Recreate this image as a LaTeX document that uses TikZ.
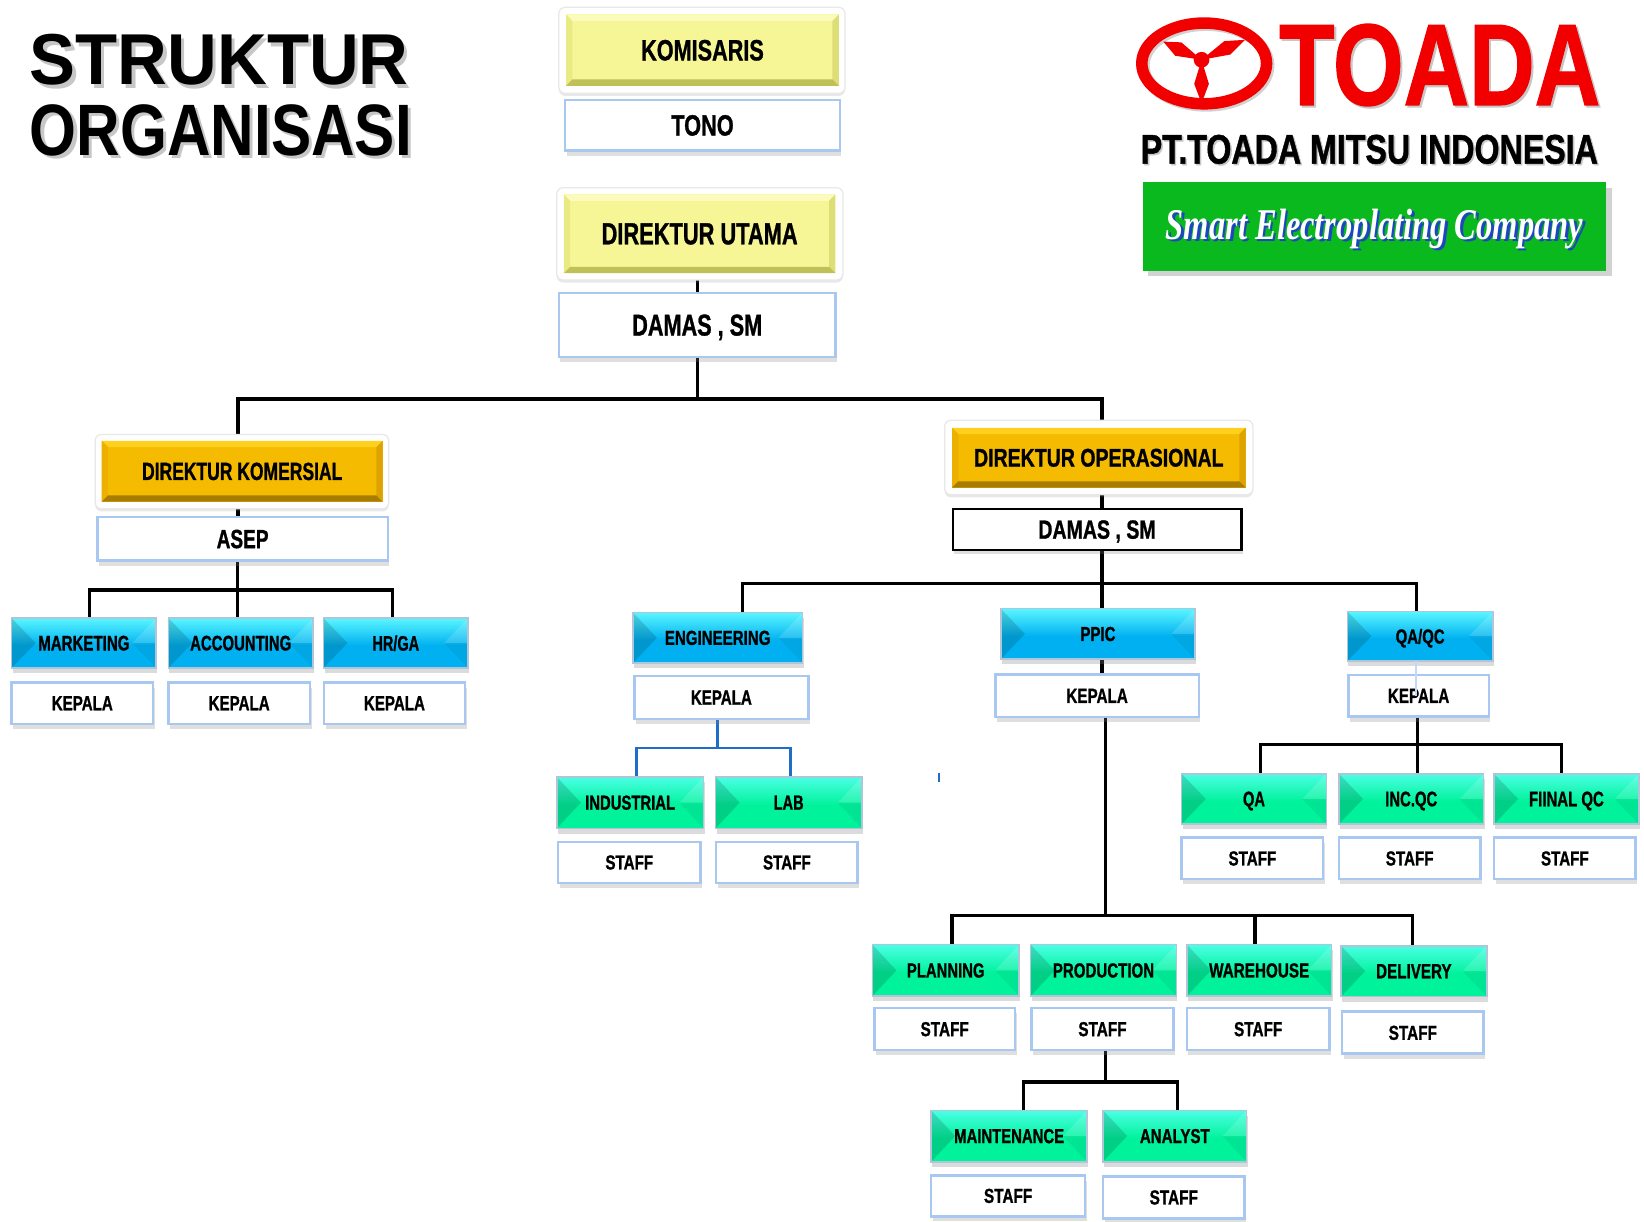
\documentclass[tikz,border=0pt]{standalone}
\usepackage{fontspec}
\setmainfont{Liberation Sans}
\newfontfamily\boxfont{Liberation Sans}[BoldFeatures={FakeBold=1.2}]
\newfontfamily\slogfont{Liberation Serif}
\usetikzlibrary{shadows,calc}
\pgfdeclarelayer{paper}
\pgfdeclarelayer{wires}
\pgfsetlayers{paper,wires,main}

\definecolor{yelm}{RGB}{246,246,150}
\definecolor{yelt}{RGB}{251,251,190}
\definecolor{yell}{RGB}{234,234,132}
\definecolor{yelr}{RGB}{222,222,118}
\definecolor{yelb}{RGB}{192,192,88}
\definecolor{orm}{RGB}{245,187,0}
\definecolor{ort}{RGB}{255,208,30}
\definecolor{orl}{RGB}{236,176,0}
\definecolor{orr}{RGB}{222,163,0}
\definecolor{orb}{RGB}{168,124,0}
\definecolor{blt}{RGB}{90,246,255}
\definecolor{blm}{RGB}{0,176,240}
\definecolor{grt}{RGB}{75,255,228}
\definecolor{grm}{RGB}{0,242,155}
\definecolor{bxline}{RGB}{176,196,218}
\definecolor{wline}{RGB}{168,200,242}
\definecolor{engline}{RGB}{30,110,200}
\definecolor{logored}{RGB}{242,0,0}
\definecolor{logogreen}{RGB}{10,185,30}
\definecolor{smartblue}{RGB}{30,70,190}

\newcommand\lbl[3]{\raisebox{0pt}[\height][0pt]{\resizebox{#1pt}{#2pt}{\boxfont\bfseries #3}}}

\newcommand\ppcorners{%
 \coordinate (pNW) at (path picture bounding box.north west);
 \coordinate (pNE) at (path picture bounding box.north east);
 \coordinate (pSW) at (path picture bounding box.south west);
 \coordinate (pSE) at (path picture bounding box.south east);}

\newcommand\flatbevel[4]{%
 \ppcorners
 \fill[#1] (pNW) -- (pNE) -- ([xshift=-6pt,yshift=-6pt]pNE) -- ([xshift=6pt,yshift=-6pt]pNW) -- cycle;
 \fill[#2] (pNW) -- ([xshift=6pt,yshift=-6pt]pNW) -- ([xshift=6pt,yshift=6pt]pSW) -- (pSW) -- cycle;
 \fill[#3] (pNE) -- ([xshift=-6pt,yshift=-6pt]pNE) -- ([xshift=-6pt,yshift=6pt]pSE) -- (pSE) -- cycle;
 \fill[#4] (pSW) -- (pSE) -- ([xshift=-6pt,yshift=6pt]pSE) -- ([xshift=6pt,yshift=6pt]pSW) -- cycle;}

\newcommand\anglebevel[2]{%
 \ppcorners
 \coordinate (pML) at ($(pNW)!0.5!(pSW)$);
 \coordinate (pMR) at ($(pNE)!0.5!(pSE)$);
 \shade[top color=#1, bottom color=#2] (pNW) rectangle ($(pNE)!0.55!(pSE)$);
 \fill[black, opacity=0.14] (pNW) -- ([xshift=23pt]pML) -- (pSW) -- cycle;
 \fill[white, opacity=0.14] (pNE) -- ([xshift=-23pt]pMR) -- (pMR) -- cycle;
 \fill[black, opacity=0.05] (pMR) -- ([xshift=-23pt]pMR) -- (pSE) -- cycle;}

\tikzset{
 conn/.style={line width=3pt, black},
 bconn/.style={line width=2.5pt, engline},
 frm/.style={rectangle, rounded corners=6pt, fill=white, draw=black!9, line width=1.2pt,
   drop shadow={shadow xshift=0pt, shadow yshift=-2.5pt, opacity=0.18}},
 yelbox/.style={rectangle, fill=yelm, path picture={\flatbevel{yelt}{yell}{yelr}{yelb}}},
 orbox/.style={rectangle, fill=orm, path picture={\flatbevel{ort}{orl}{orr}{orb}}},
 blbox/.style={rectangle, fill=blm, draw=bxline, line width=1.5pt,
   drop shadow={shadow xshift=1pt, shadow yshift=-5pt, opacity=0.28},
   path picture={\anglebevel{blt}{blm}}},
 grbox/.style={rectangle, fill=grm, draw=bxline, line width=1.5pt,
   drop shadow={shadow xshift=1pt, shadow yshift=-5pt, opacity=0.28},
   path picture={\anglebevel{grt}{grm}}},
 wbox/.style={rectangle, fill=white, draw=wline, line width=2.5pt,
   drop shadow={shadow xshift=1.5pt, shadow yshift=-5pt, opacity=0.25}},
 kbox/.style={rectangle, fill=white, draw=black, line width=2.5pt,
   drop shadow={shadow xshift=1.5pt, shadow yshift=-4pt, opacity=0.25}},
 sz/.style 2 args={minimum width=#1pt, minimum height=#2pt},
}

\begin{document}
\begin{tikzpicture}[x=1pt,y=-1pt, every node/.style={inner sep=0pt,outer sep=0pt}]
\begin{pgfonlayer}{paper}
\fill[white] (0,0) rectangle (1568,1165);
\end{pgfonlayer}
\useasboundingbox (0,0) rectangle (1568,1165);

% ---------- title ----------
\node[anchor=base west, text=black!22] (t1s) at (31.5,84) {\resizebox{361pt}{48pt}{\bfseries STRUKTUR}};
\node[anchor=base west] (t1) at (28.6,81) {\resizebox{361pt}{48pt}{\bfseries STRUKTUR}};
\node[anchor=base west, text=black!22] (t2s) at (31.5,151.5) {\resizebox{364pt}{48.5pt}{\bfseries ORGANISASI}};
\node[anchor=base west] (t2) at (28.6,148.5) {\resizebox{364pt}{48.5pt}{\bfseries ORGANISASI}};

% ---------- logo ----------
\draw[black!18, line width=11pt] (1150.5,62.5) ellipse [x radius=59.5, y radius=38.5];
\draw[logored, line width=11pt] (1148.5,60.5) ellipse [x radius=59.5, y radius=38.5];
\fill[logored] (1146,57) -- (1126.7,40.4) -- (1109.5,39.7) -- (1120.9,53.2) -- cycle;
\fill[logored] (1146,57) -- (1167.7,39.2) -- (1187.4,38) -- (1173.5,52.0) -- cycle;
\fill[logored] (1146,57) -- (1139,80) -- (1146,98.5) -- (1153,80) -- cycle;
\fill[logored] (1146,57) circle [radius=7.5];
\node[anchor=base west, text=black!22] (toadas) at (1222,102) {\resizebox{306pt}{77pt}{\boxfont\bfseries TOADA}};
\node[anchor=base west, text=logored] (toada) at (1220,100) {\resizebox{306pt}{77pt}{\boxfont\bfseries TOADA}};
\node[anchor=base west, text=black!22] (pts) at (1089.5,157.5) {\resizebox{436pt}{27.5pt}{\boxfont\bfseries PT.TOADA MITSU INDONESIA}};
\node[anchor=base west] (pt) at (1088,156) {\resizebox{436pt}{27.5pt}{\boxfont\bfseries PT.TOADA MITSU INDONESIA}};
\node[rectangle, fill=logogreen, sz={442}{84}, drop shadow={shadow xshift=5pt, shadow yshift=-5pt, opacity=0.35}] (slogan) at (1311,216) {};
\node[anchor=base west, text=smartblue] (smarts) at (1114.5,230.5) {\resizebox{398pt}{29pt}{\slogfont\bfseries\itshape Smart Electroplating Company}};
\node[anchor=base west, text=white] (smart) at (1112,228) {\resizebox{398pt}{29pt}{\slogfont\bfseries\itshape Smart Electroplating Company}};

% ---------- top ----------
\node[frm, sz={273}{82}] (komf) at (669.5,48) {};
\node[yelbox, sz={260}{68}] (kom) at (670,47.8) {\lbl{117}{19.5}{KOMISARIS}};
\node[wbox, sz={262}{48}] (tono) at (670,119.5) {\lbl{59.5}{19.5}{TONO}};
\node[frm, sz={273}{88}] (dirutf) at (667.5,223) {};
\node[yelbox, sz={259}{75}] (dirut) at (667.3,223) {\lbl{187}{20}{DIREKTUR UTAMA}};
\node[wbox, sz={264}{61}] (damas1) at (665,310) {\lbl{124}{20}{DAMAS , SM}};

% ---------- komersial ----------
\node[frm, sz={280}{71}] (dirkomf) at (230.8,449.8) {};
\node[orbox, sz={268}{58}] (dirkom) at (231,449.5) {\lbl{191}{16.5}{DIREKTUR KOMERSIAL}};
\node[wbox, sz={277}{41.5}] (asep) at (231.4,514) {\lbl{49.5}{17.5}{ASEP}};
\node[blbox, sz={138}{47.5}] (mkt) at (80,613.3) {\lbl{87}{14}{MARKETING}};
\node[blbox, sz={138}{47.5}] (acc) at (229.6,613.3) {\lbl{96.4}{14}{ACCOUNTING}};
\node[blbox, sz={138}{47.5}] (hrga) at (377.5,613.3) {\lbl{44.6}{14.5}{HR/GA}};
\node[wbox, sz={135}{39.5}] (kepm) at (78.5,670.7) {\lbl{58.2}{13.5}{KEPALA}};
\node[wbox, sz={135}{39.5}] (kepa) at (228.1,670.7) {\lbl{58.2}{13.5}{KEPALA}};
\node[wbox, sz={134.5}{39.5}] (keph) at (376.2,670.7) {\lbl{58.2}{13.5}{KEPALA}};

% ---------- operasional ----------
\node[frm, sz={294}{71}] (diropsf) at (1048,436.3) {};
\node[orbox, sz={280}{57}] (dirops) at (1048,436.5) {\lbl{238}{17}{DIREKTUR OPERASIONAL}};
\node[kbox, sz={275}{39}] (damas2) at (1046.3,505) {\lbl{112}{17.5}{DAMAS , SM}};

\node[blbox, sz={162}{48.5}] (eng) at (684.5,608.3) {\lbl{100.7}{13.5}{ENGINEERING}};
\node[wbox, sz={166}{41}] (kepe) at (688,665.3) {\lbl{58.2}{13.5}{KEPALA}};
\node[grbox, sz={140}{49}] (indus) at (601,765.5) {\lbl{85.8}{13.5}{INDUSTRIAL}};
\node[grbox, sz={139.5}{49}] (lab) at (752.2,765.5) {\lbl{28.6}{13.5}{LAB}};
\node[wbox, sz={136}{39}] (staffi) at (600.2,822.5) {\lbl{45.5}{13.5}{STAFF}};
\node[wbox, sz={135}{39}] (staffl) at (750.5,822.5) {\lbl{45.5}{13.5}{STAFF}};

\node[blbox, sz={185.5}{48.3}] (ppic) at (1047.2,604.6) {\lbl{33.4}{13.5}{PPIC}};
\node[wbox, sz={194}{40.5}] (kepp) at (1046.4,663.7) {\lbl{58.6}{13.5}{KEPALA}};

\node[blbox, sz={139}{47.5}] (qaqc) at (1354.5,606.8) {\lbl{46.7}{14}{QA/QC}};
\node[wbox, sz={134}{39.5}] (kepq) at (1353,663.7) {\lbl{58.6}{13.5}{KEPALA}};
\node[grbox, sz={138}{48}] (qa) at (1196,762) {\lbl{21}{14}{QA}};
\node[grbox, sz={138}{48}] (incqc) at (1346,762) {\lbl{49.6}{14}{INC.QC}};
\node[grbox, sz={138}{48}] (fqc) at (1494,762) {\lbl{71.3}{14}{FIINAL QC}};
\node[wbox, sz={135}{39.5}] (staffqa) at (1194.5,818.7) {\lbl{45.5}{13.5}{STAFF}};
\node[wbox, sz={135}{39.5}] (staffinc) at (1344.5,818.7) {\lbl{45.5}{13.5}{STAFF}};
\node[wbox, sz={135}{39.5}] (stafffqc) at (1492.5,818.7) {\lbl{45.5}{13.5}{STAFF}};

\node[grbox, sz={140}{49}] (plan) at (902,925.5) {\lbl{74}{13.5}{PLANNING}};
\node[grbox, sz={139}{49}] (prod) at (1052.5,925.5) {\lbl{96.6}{13.5}{PRODUCTION}};
\node[grbox, sz={138}{49}] (ware) at (1201,925.5) {\lbl{95.5}{13.5}{WAREHOUSE}};
\node[grbox, sz={139}{48.5}] (deliv) at (1348.5,926.3) {\lbl{72}{13.5}{DELIVERY}};
\node[wbox, sz={134}{40}] (staffpl) at (901,981.5) {\lbl{46}{13.5}{STAFF}};
\node[wbox, sz={135}{40}] (staffpr) at (1051.5,981.5) {\lbl{46}{13.5}{STAFF}};
\node[wbox, sz={136}{40}] (staffwa) at (1200,981.5) {\lbl{46}{13.5}{STAFF}};
\node[wbox, sz={135}{40}] (staffde) at (1347.5,985) {\lbl{46}{13.5}{STAFF}};
\node[grbox, sz={149}{49}] (maint) at (962.5,1083.5) {\lbl{104.8}{13.5}{MAINTENANCE}};
\node[grbox, sz={137}{49}] (anal) at (1120.5,1083.5) {\lbl{66.6}{13.5}{ANALYST}};
\node[wbox, sz={147}{39}] (staffma) at (961.5,1140.5) {\lbl{46}{13.5}{STAFF}};
\node[wbox, sz={135}{40}] (staffan) at (1119.5,1142) {\lbl{46}{13.5}{STAFF}};

% faint connector over KEPALA of QA/QC
\draw[line width=2pt, wline!70] ([xshift=-4pt]qaqc.south) -- ([xshift=-4pt]qaqc.south |- kepq.center);

% stray tick
\coordinate (tk1) at (895.6,737);
\coordinate (tk2) at (895.6,746);
\draw[engline, line width=2pt] (tk1) -- (tk2);

% ---------- connectors ----------
\begin{pgfonlayer}{wires}
\draw[conn] (damas1.north) -- (damas1.north |- dirut.south);
\draw[conn] (damas1.south) -- ++(0,40) coordinate (bus1);
\draw[conn] (bus1) -| ([xshift=-4pt]dirkom.north);
\draw[conn] (bus1) -| ([xshift=3pt]dirops.north);
\draw[conn] ([xshift=-4pt]dirkom.south) -- ([xshift=-4pt]dirkom.south |- asep.north);
\draw[conn] ([xshift=-4.5pt]asep.south) -- ++(0,28) coordinate (bus2);
\draw[conn] (bus2) -| ([xshift=5pt]mkt.north);
\draw[conn] (bus2) -| ([xshift=-3.5pt]hrga.north);
\draw[conn] (bus2) -- (bus2 |- acc.north);
\draw[conn] ([xshift=3pt]dirops.south) -- ([xshift=3pt]dirops.south |- damas2.north);
\draw[conn] ([xshift=4.7pt]damas2.south) -- ++(0,32) coordinate (bus3);
\draw[conn] (bus3) -| ([xshift=24pt]eng.north);
\draw[conn] (bus3) -- (bus3 |- ppic.north);
\draw[conn] (bus3) -| ([xshift=-3.5pt]qaqc.north);
\draw[conn] (bus3 |- ppic.south) -- (bus3 |- kepp.north);
\draw[conn] ([xshift=7.6pt]kepp.south) -- ++(0,189) coordinate (bus5);
\draw[conn] (bus5) -| ([xshift=6pt]plan.north);
\draw[conn] (bus5) -| ([xshift=-4pt]ware.north);
\draw[conn] (bus5) -| ([xshift=-1.5pt]deliv.north);
\draw[conn] ([xshift=2.5pt]staffpr.south) -- ++(0,30.5) coordinate (bus6);
\draw[conn] (bus6) -| ([xshift=13.5pt]maint.north);
\draw[conn] (bus6) -| ([xshift=2.5pt]anal.north);
\draw[bconn] ([xshift=-3.5pt]kepe.south) -- ++(0,27.5) coordinate (bus4);
\draw[bconn] (bus4) -| ([xshift=6pt]indus.north);
\draw[bconn] (bus4) -| ([xshift=2pt]lab.north);
\draw[conn] ([xshift=-1pt]kepq.south) -- ++(0,27) coordinate (bus7);
\draw[conn] (bus7) -| ([xshift=6pt]qa.north);
\draw[conn] (bus7) -- (bus7 |- incqc.north);
\draw[conn] (bus7) -| ([xshift=-4.5pt]fqc.north);
\end{pgfonlayer}
\end{tikzpicture}
\end{document}
